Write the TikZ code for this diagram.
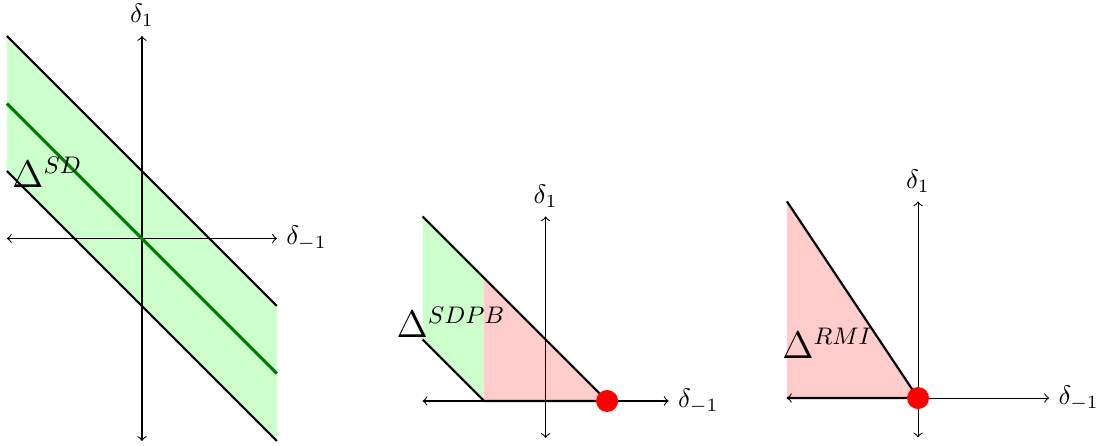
\documentclass[tikz,border=0pt]{standalone}
\usetikzlibrary{positioning}
\tikzset{
    axis/.style={<->, thin},
    bound/.style={thick, black},
    mid/.style={very thick, green!50!black},
    dot/.style={circle, fill=red, inner sep=0pt, minimum size=0.29cm},
    lbl/.style={font=\fontsize{13.5}{16}\selectfont, inner sep=0pt, anchor=base west},
}
\begin{document}
\begin{tikzpicture}
    \useasboundingbox (0,0) rectangle (14.507,5.874);
    % standard deviation band
    \begin{scope}[shift={(1.874,2.726)}, scale=0.891]
        \fill[green!20] (-2,3) -- (2,-1) -- (2,-3) -- (-2,1) -- cycle;
        \coordinate (l1) at (-2,0); \coordinate (r1) at (2,0);
        \coordinate (b1) at (0,-3); \coordinate (t1) at (0,3);
        \draw[axis] (l1) -- (r1) node[right] (x1) {$\delta_{-1}$};
        \draw[axis] (b1) -- (t1) node[above] (y1) {$\delta_1$};
        \coordinate (ua) at (-2,3); \coordinate (ub) at (2,-1);
        \coordinate (ma) at (-2,2); \coordinate (mb) at (2,-2);
        \coordinate (la) at (-2,1); \coordinate (lb) at (2,-3);
        \draw[bound] (ua) -- (ub);
        \draw[bound] (la) -- (lb);
        \draw[mid] (ma) -- (mb);
        \node[lbl] (sd) at (-1.93,0.75) {$\Delta^{SD}$};
    \end{scope}
    % with positive bound
    \begin{scope}[shift={(7.202,0.581)}, scale=0.812]
        \fill[green!20] (-2,3) -- (-1,2) -- (-1,0) -- (-2,1) -- cycle;
        \fill[red!20] (-1,2) -- (1,0) -- (-1,0) -- cycle;
        \coordinate (l2) at (-2,0); \coordinate (r2) at (2,0);
        \coordinate (b2) at (0,-0.6); \coordinate (t2) at (0,3);
        \draw[axis] (l2) -- (r2) node[right] (x2) {$\delta_{-1}$};
        \draw[axis] (b2) -- (t2) node[above] (y2) {$\delta_1$};
        \coordinate (ua2) at (-2,3); \coordinate (la2) at (-2,1);
        \coordinate (lb2) at (-1,0);
        \draw[bound] (ua2) -- (1,0) coordinate (p2);
        \draw[bound] (la2) -- (lb2) -- (p2);
        \node[dot] (d2) at (p2) {};
        \node[lbl] (sdpb) at (-2.43,1.04) {$\Delta^{SDPB}$};
    \end{scope}
    % rmi
    \begin{scope}[shift={(12.118,0.620)}, scale=0.865]
        \fill[red!20] (-2,3) -- (0,0) -- (-2,0) -- cycle;
        \coordinate (l3) at (-2,0); \coordinate (r3) at (2,0);
        \coordinate (b3) at (0,-0.6); \coordinate (t3) at (0,3);
        \draw[axis] (l3) -- (r3) node[right] (x3) {$\delta_{-1}$};
        \draw[axis] (b3) -- (t3) node[above] (y3) {$\delta_1$};
        \coordinate (ua3) at (-2,3); \coordinate (o3) at (0,0);
        \draw[bound] (ua3) -- (o3) -- (l3);
        \node[dot] (d3) at (o3) {};
        \node[lbl] (rmi) at (-2.08,0.61) {$\Delta^{RMI}$};
    \end{scope}
\end{tikzpicture}
\end{document}
